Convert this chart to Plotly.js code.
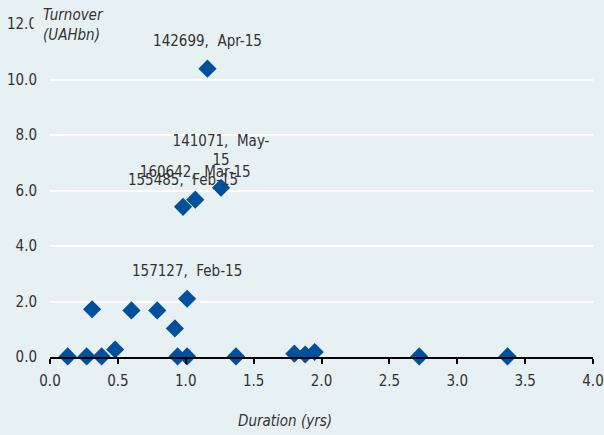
<!DOCTYPE html>
<html>
<head>
<meta charset="utf-8">
<script src="https://cdn.plot.ly/plotly-3.0.1.min.js"></script>
<style>
  html, body { margin: 0; padding: 0; background: #e7f0f2; }
  #chart { width: 604px; height: 435px; }
</style>
</head>
<body>
<div id="chart"></div>
<script>
(function() {
  'use strict';

  // Bond duration vs turnover
  var duration = [0.13, 0.27, 0.38, 0.48, 0.31, 0.60, 0.79, 0.92, 1.01, 0.94, 1.01,
                  0.98, 1.07, 1.26, 1.16, 1.37, 1.80, 1.88, 1.95, 2.72, 3.37];
  var turnover = [0.02, 0.02, 0.02, 0.27, 1.72, 1.68, 1.68, 1.03, 2.10, 0.02, 0.02,
                  5.41, 5.67, 6.10, 10.39, 0.02, 0.12, 0.09, 0.18, 0.02, 0.02];
  var pointLabels = ['', '', '', '', '', '', '', '', '157127,  Feb-15', '', '',
                     '155485,  Feb-15', '160642,  Mar-15', '141071,  May-<br>15',
                     '142699,  Apr-15', '', '', '', '', '', ''];

  var xTicks = [0, 0.5, 1, 1.5, 2, 2.5, 3, 3.5, 4];
  var yTicks = [0, 2, 4, 6, 8, 10, 12];

  var bg = '#e7f0f2';
  var font = '"DejaVu Sans Condensed", "Liberation Sans Narrow", sans-serif';
  var textColor = '#333333';

  var data = [{
    // markers
    type: 'scatter',
    mode: 'markers',
    x: duration,
    y: turnover,
    marker: {symbol: 'diamond', size: 14, color: '#00509d'},
    cliponaxis: false,
    hoverinfo: 'x+y'
  }, {
    // labels, pushed further off the point by a wider invisible marker
    type: 'scatter',
    mode: 'markers+text',
    x: duration,
    y: turnover,
    text: pointLabels,
    textposition: 'top center',
    textfont: {family: font, size: 15, color: textColor},
    marker: {symbol: 'circle', size: 28, color: 'rgba(0,0,0,0)'},
    cliponaxis: false,
    hoverinfo: 'skip'
  }];

  var layout = {
    width: 604,
    height: 435,
    paper_bgcolor: bg,
    plot_bgcolor: bg,
    showlegend: false,
    font: {family: font, size: 15, color: textColor},
    margin: {l: 50, r: 11, t: 24, b: 78},
    xaxis: {
      range: [0, 4],
      tickvals: xTicks,
      ticktext: xTicks.map(function(v) { return v.toFixed(1); }),
      showgrid: false,
      zeroline: false,
      showline: true,
      linecolor: '#000000',
      linewidth: 2,
      ticks: 'outside',
      ticklen: 5,
      tickwidth: 2,
      tickcolor: '#000000',
      ticklabelstandoff: 4,
      ticklabeloverflow: 'allow'
    },
    yaxis: {
      range: [0, 12],
      tickvals: yTicks,
      ticktext: yTicks.map(function(v) { return v.toFixed(1); }),
      showgrid: true,
      gridcolor: '#ffffff',
      gridwidth: 2,
      zeroline: false,
      showline: false,
      ticks: '',
      ticklabelstandoff: 12
    },
    annotations: [{
      text: 'Turnover<br>(UAHbn)',
      xref: 'paper', yref: 'paper',
      x: 0, y: 1,
      xshift: -17, yshift: 28,
      xanchor: 'left', yanchor: 'top',
      align: 'left',
      showarrow: false,
      bgcolor: bg,
      borderpad: 9,
      font: {family: font, size: 15, color: textColor, style: 'italic'}
    }, {
      text: 'Duration (yrs)',
      xref: 'paper', yref: 'paper',
      x: 0.433, y: 0,
      yshift: -53,
      xanchor: 'center', yanchor: 'top',
      showarrow: false,
      font: {family: font, size: 15, color: textColor, style: 'italic'}
    }]
  };

  Plotly.newPlot('chart', data, layout, {displayModeBar: false});
}());
</script>
</body>
</html>
